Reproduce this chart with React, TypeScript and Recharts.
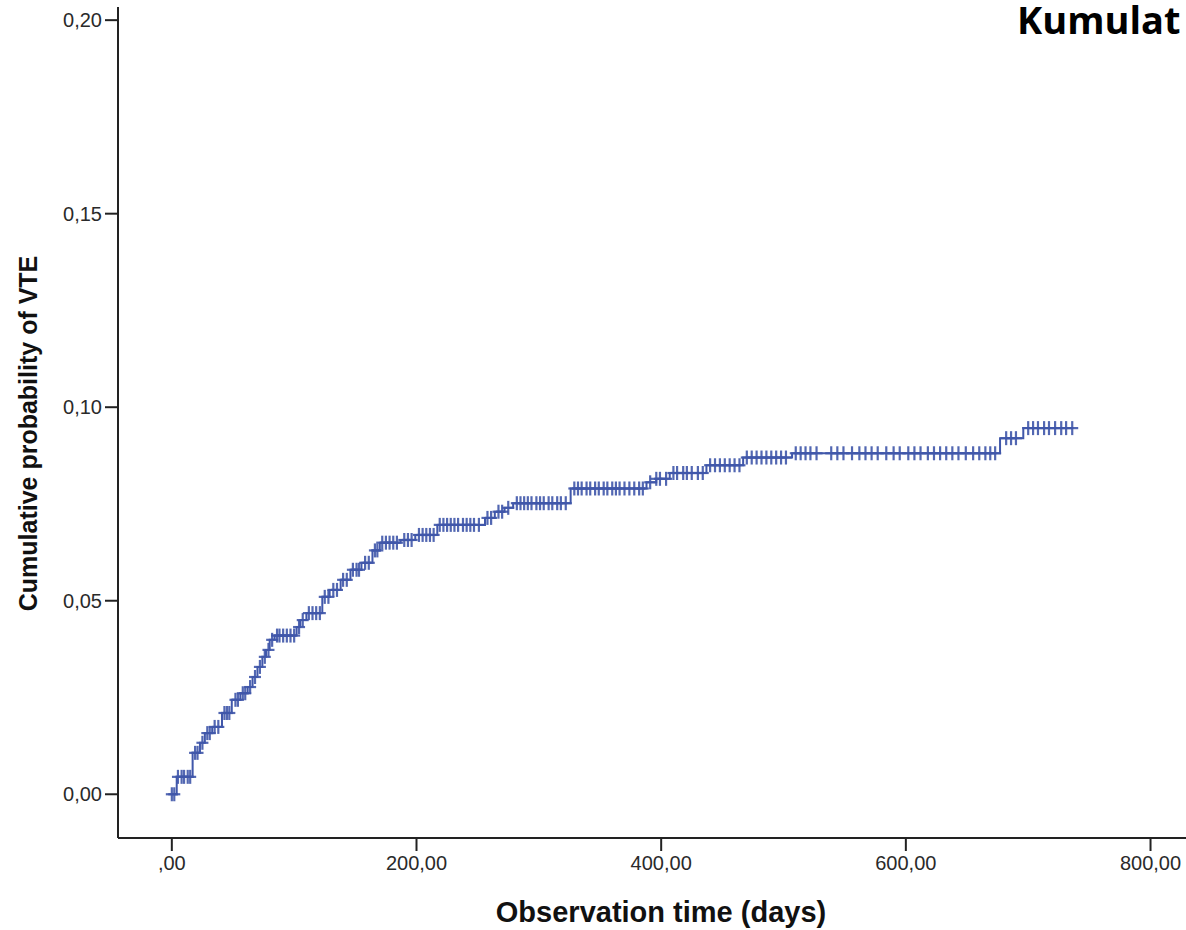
import { ComposedChart, Line, Scatter, XAxis, YAxis } from 'recharts';

// Kaplan-Meier style cumulative incidence
const eventTimes = [0, 4, 17, 23, 27, 33, 41, 49, 56, 62, 66, 70, 74, 77, 80, 84, 102, 105, 110, 123, 129, 138, 146, 155, 164, 170, 187, 199, 217, 256, 264, 272, 279, 326, 388, 396, 407, 437, 467, 507, 677, 696, 737];
const eventProbs = [0, 0.0045, 0.0107, 0.0133, 0.0158, 0.0174, 0.021, 0.0244, 0.0261, 0.0277, 0.0303, 0.0329, 0.0355, 0.0373, 0.0399, 0.041, 0.0432, 0.045, 0.0468, 0.051, 0.0528, 0.0554, 0.058, 0.0598, 0.063, 0.065, 0.0657, 0.067, 0.0696, 0.0714, 0.073, 0.074, 0.0752, 0.079, 0.0806, 0.0815, 0.083, 0.085, 0.087, 0.0881, 0.092, 0.0946, 0.0946];

// censored observations (days)
const censorTimes = [0, 2, 5, 8, 10, 13, 15, 19, 21, 25, 29, 31, 35, 38, 43, 45, 47, 52, 54, 58, 60, 64, 68, 72, 76, 79, 82, 86, 88, 91, 94, 97, 100, 104, 107, 112, 115, 118, 121, 125, 128, 132, 135, 140, 143, 148, 151, 153, 158, 161, 166, 168, 172, 175, 178, 181, 184, 190, 193, 196, 202, 205, 208, 211, 214, 219, 222, 225, 228, 231, 234, 238, 241, 244, 247, 251, 258, 261, 267, 270, 275, 282, 285, 288, 291, 294, 298, 301, 304, 308, 311, 315, 318, 322, 329, 332, 335, 339, 342, 346, 349, 353, 356, 360, 363, 366, 370, 374, 378, 382, 385, 391, 396, 399, 404, 410, 413, 418, 421, 425, 430, 434, 440, 444, 448, 452, 456, 460, 464, 470, 474, 478, 482, 486, 490, 494, 498, 502, 510, 514, 518, 522, 527, 539, 544, 549, 556, 562, 567, 572, 577, 584, 590, 595, 602, 607, 612, 618, 623, 628, 633, 638, 643, 649, 655, 660, 665, 669, 673, 682, 686, 690, 700, 704, 708, 713, 717, 722, 727, 731, 736];

const xTicks = [0, 200, 400, 600, 800];
const yTicks = [0, 0.05, 0.1, 0.15, 0.2];

const BLUE = '#4057aa';
const FONT = "'Liberation Sans', Arial, sans-serif";

const eventData = eventTimes.map((t, i) => ({ t, p: eventProbs[i] }));

// value of the step curve at time t
const probAt = (t: number) => {
  let p = 0;
  for (let i = 0; i < eventTimes.length; i++) {
    if (eventTimes[i] <= t) p = eventProbs[i];
  }
  return p;
};
const censorData = censorTimes.map(t => ({ t, p: probAt(t) }));

const fmt = (v: number) => v.toFixed(2).replace('.', ',');
const fmtX = (v: number) => (v === 0 ? ',00' : fmt(v));

const Plus = (props: any) => {
  const { cx, cy } = props;
  if (cx == null || cy == null) return null;
  return (
    <g stroke={BLUE} strokeWidth={2.2} opacity={0.9}>
      <line x1={cx - 6} y1={cy} x2={cx + 6} y2={cy} />
      <line x1={cx} y1={cy - 7} x2={cx} y2={cy + 7} />
    </g>
  );
};

const YTitle = (props: any) => {
  const vb = props.viewBox || {};
  const cy = (vb.y ?? 0) + (vb.height ?? 0) / 2 + 11;
  return (
    <text x={28} y={cy} transform={`rotate(-90, 28, ${cy})`} textAnchor="middle" dominantBaseline="central"
      fontFamily={FONT} fontWeight="bold" fontSize={25} fill="#111">
      Cumulative probability of VTE
    </text>
  );
};

const XTitle = (props: any) => {
  const vb = props.viewBox || {};
  const cx = (vb.x ?? 0) + (vb.width ?? 0) / 2 + 9;
  return (
    <text x={cx} y={922} textAnchor="middle" fontFamily={FONT} fontWeight="bold" fontSize={29} fill="#111">
      Observation time (days)
    </text>
  );
};

const tickStyle = { fontFamily: FONT, fontSize: 20, fill: '#2a2a2a' };

export default function App() {
  return (
    <div style={{ position: 'absolute', left: 0, top: 0, width: 1186, height: 930, background: '#fff', overflow: 'hidden' }}>
      <ComposedChart width={1186} height={930} margin={{ top: 7, right: 0, bottom: 0, left: 0 }}>
        <XAxis
          type="number"
          dataKey="t"
          domain={[-44, 829]}
          allowDataOverflow
          ticks={xTicks}
          tickFormatter={fmtX}
          height={92}
          tickSize={13}
          tickMargin={5}
          stroke="#222"
          strokeWidth={2}
          tick={tickStyle}
          label={<XTitle />}
        />
        <YAxis
          type="number"
          domain={[-0.0113, 0.2034]}
          allowDataOverflow
          ticks={yTicks}
          tickFormatter={fmt}
          width={118}
          tickSize={13}
          tickMargin={3}
          stroke="#222"
          strokeWidth={2}
          tick={tickStyle}
          label={<YTitle />}
        />
        <Line data={eventData} dataKey="p" type="stepAfter" stroke={BLUE} strokeWidth={2} dot={false} isAnimationActive={false} />
        <Scatter data={censorData} dataKey="p" shape={<Plus />} isAnimationActive={false} />
      </ComposedChart>
      <div style={{ position: 'absolute', left: 1017, top: 0, lineHeight: 1, fontFamily: "'Open Sans', sans-serif", fontWeight: 'bold', fontSize: 38, color: '#000', whiteSpace: 'nowrap' }}>
        Kumulat
      </div>
    </div>
  );
}
